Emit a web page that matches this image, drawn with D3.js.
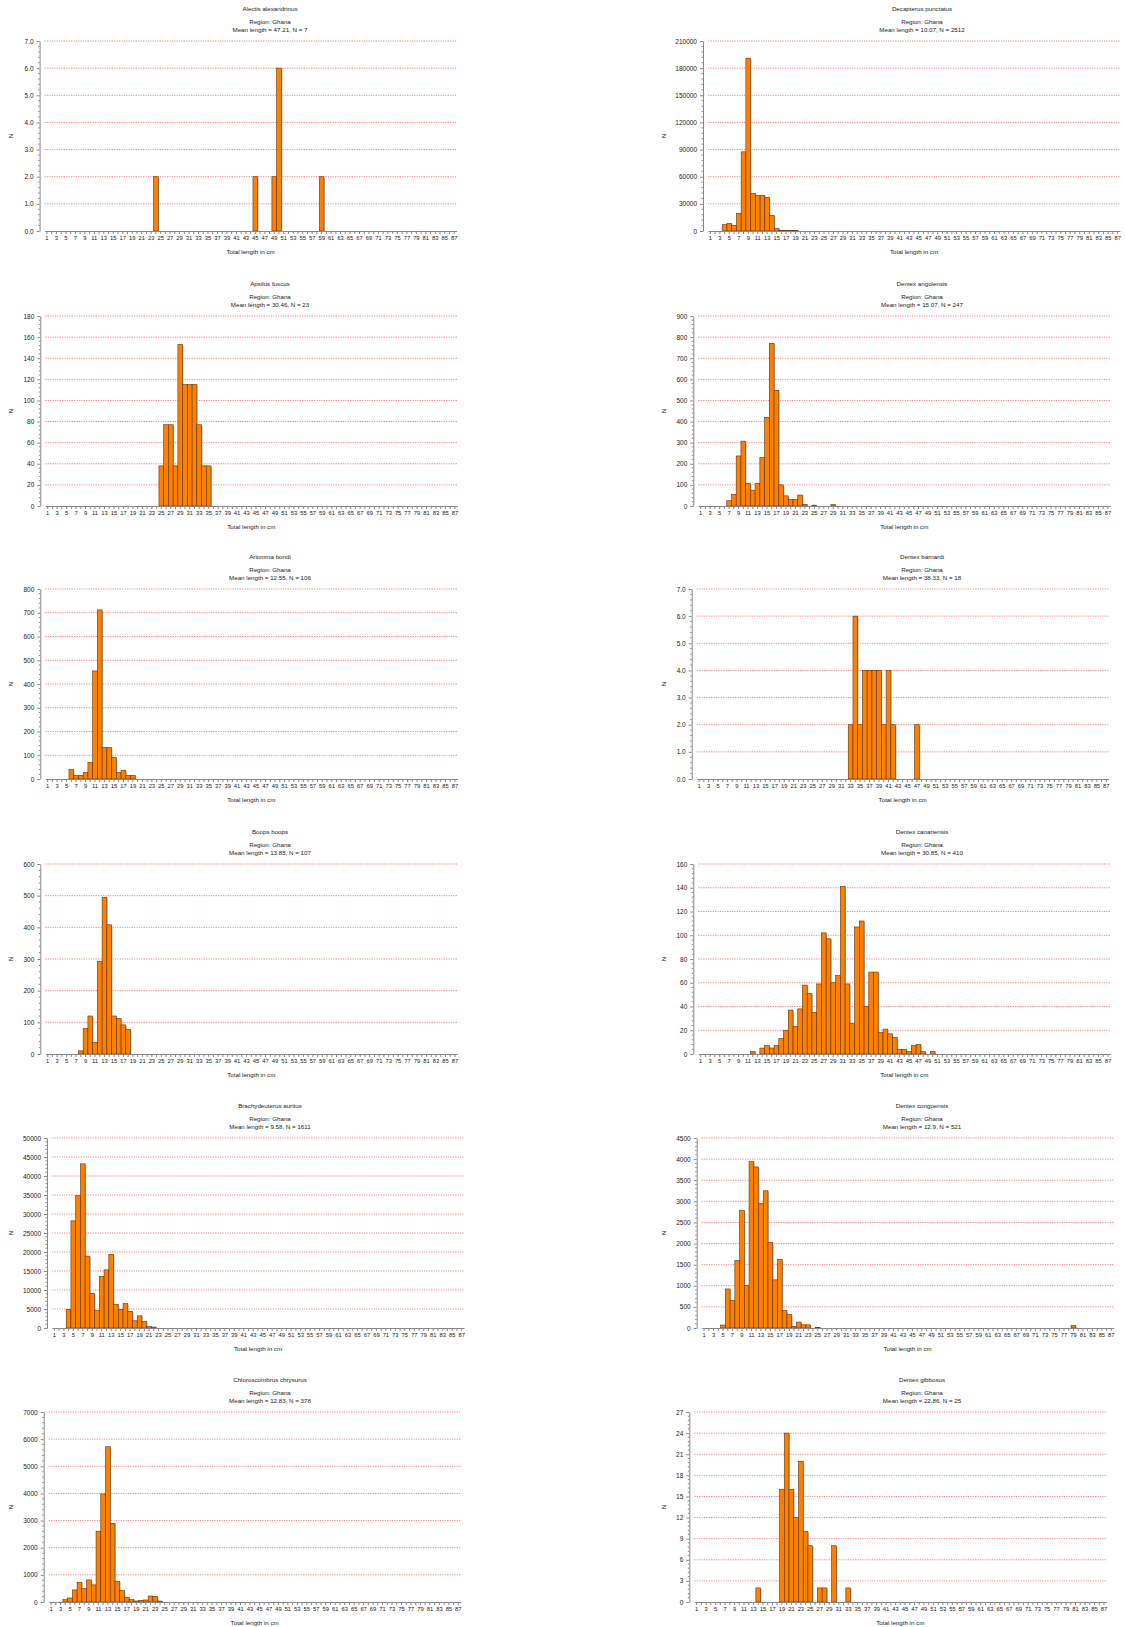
<!DOCTYPE html>
<html>
<head>
<meta charset="utf-8">
<script src="https://cdnjs.cloudflare.com/ajax/libs/d3/7.8.5/d3.min.js"></script>
<style>
	body { margin: 0; background: #fff; }
	text { font-family: "Liberation Sans", Arial, sans-serif; fill: #222; }
</style>
</head>
<body>
<div id="charts"></div>
<script>
// Length frequency histograms, Ghana survey

var lengths = d3.range(1, 88);

var species = [
	'Alectis alexandrinus', 'Decapterus punctatus',
	'Apsilus fuscus', 'Dentex angolensis',
	'Ariomma bondi', 'Dentex barnardi',
	'Boops boops', 'Dentex canariensis',
	'Brachydeuterus auritus', 'Dentex congoensis',
	'Chloroscombrus chrysurus', 'Dentex gibbosus'
];
var meanLength = [47.21, 10.07, 30.46, 15.07, 12.55, 38.33, 13.85, 30.85, 9.58, 12.9, 12.83, 22.86];
var sampleN = [7, 2512, 23, 247, 106, 18, 107, 410, 1611, 521, 378, 25];
var yMax = [7, 210000, 180, 900, 800, 7, 600, 160, 50000, 4500, 7000, 27];
var yStep = [1, 30000, 20, 100, 100, 1, 100, 20, 5000, 500, 1000, 3];

// [length in cm, N]
var alectisN = [[24,2],[45,2],[49,2],[50,6],[59,2]];
var decapterusN = [[4,7000],[5,8500],[6,6300],[7,19500],[8,87500],[9,191000],[10,41700],[11,39500],
	[12,39500],[13,37300],[14,17300],[15,2600],[16,800],[17,600],[18,500],[19,400]];
var apsilusN = [[25,38],[26,77],[27,77],[28,38],[29,153],[30,115],[31,115],[32,115],[33,77],[34,38],[35,38]];
var angolensisN = [[7,25],[8,55],[9,237],[10,307],[11,107],[12,75],[13,107],[14,230],[15,420],[16,770],
	[17,548],[18,100],[19,48],[20,30],[21,30],[22,52],[23,8],[25,4],[29,7]];
var ariommaN = [[6,40],[7,15],[8,15],[9,28],[10,70],[11,455],[12,712],[13,133],[14,133],[15,90],
	[16,28],[17,37],[18,15],[19,15]];
var barnardiN = [[33,2],[34,6],[35,2],[36,4],[37,4],[38,4],[39,4],[40,2],[41,4],[42,2],[47,2]];
var boopsN = [[8,10],[9,80],[10,120],[11,37],[12,292],[13,495],[14,408],[15,120],[16,112],[17,92],[18,77]];
var canariensisN = [[12,2],[14,5],[15,7],[16,5],[17,7],[18,13],[19,20],[20,37],[21,23],[22,38],[23,58],
	[24,51],[25,35],[26,59],[27,102],[28,97],[29,60],[30,66],[31,141],[32,59],[33,26],[34,107],[35,112],
	[36,40],[37,69],[38,69],[39,18],[40,21],[41,17],[42,14],[43,4],[44,4],[45,2],[46,7],[47,8],[48,2],[50,2]];
var brachyN = [[4,4900],[5,28200],[6,34800],[7,43200],[8,18900],[9,9100],[10,4600],[11,13600],[12,15300],
	[13,19400],[14,6200],[15,4900],[16,6400],[17,4400],[18,1900],[19,3200],[20,1700],[21,350],[22,250]];
var congoensisN = [[5,70],[6,925],[7,650],[8,1600],[9,2785],[10,1005],[11,3940],[12,3815],[13,2950],
	[14,3250],[15,2025],[16,1140],[17,1620],[18,410],[19,325],[20,40],[21,140],[22,75],[23,75],[25,15],[79,55]];
var chloroN = [[4,85],[5,148],[6,445],[7,727],[8,490],[9,813],[10,630],[11,2610],[12,3980],[13,5720],
	[14,2900],[15,750],[16,420],[17,170],[18,85],[19,37],[20,60],[21,75],[22,220],[23,210],[24,35]];
var gibbosusN = [[14,2],[19,16],[20,24],[21,16],[22,12],[23,20],[24,10],[25,8],[27,2],[28,2],[30,8],[33,2]];

var counts = [alectisN, decapterusN, apsilusN, angolensisN, ariommaN, barnardiN,
	boopsN, canariensisN, brachyN, congoensisN, chloroN, gibbosusN];

// layout
var W = 1125, H = 1627;
var ROW_TOP = [41, 316, 589, 864, 1138, 1412];
var PLOT_H = 190, PLOT_W = 412;
var PLOT_LEFT = [44.6, 708, 45.3, 698.3, 45.3, 696.7, 45.3, 698.3, 52, 701.7, 48.7, 694.3];
var TITLE_X = [270, 922];
var N_X = [11, 664];

var svg = d3.select('#charts').append('svg')
	.attr('width', W).attr('height', H);

species.forEach(function(name, i) {
	var col = i % 2, row = Math.floor(i / 2);
	var top = ROW_TOP[row], left = PLOT_LEFT[i];
	var bottom = top + PLOT_H, right = left + PLOT_W;
	var fmt = yMax[i] < 10 ? d3.format('.1f') : d3.format('d');
	var g = svg.append('g').attr('class', 'panel');

	var x = d3.scaleBand().domain(lengths).range([left, right]).padding(0);
	var y = d3.scaleLinear().domain([0, yMax[i]]).range([bottom, top]);
	var ticks = d3.range(0, yMax[i] + yStep[i] / 2, yStep[i]);

	// titles
	g.append('text').attr('x', TITLE_X[col]).attr('y', top - 30)
		.attr('text-anchor', 'middle').style('font-size', '6.2px').text(name);
	g.append('text').attr('x', TITLE_X[col]).attr('y', top - 17)
		.attr('text-anchor', 'middle').style('font-size', '6.2px').text('Region: Ghana');
	g.append('text').attr('x', TITLE_X[col]).attr('y', top - 9)
		.attr('text-anchor', 'middle').style('font-size', '6.2px')
		.text('Mean length = ' + meanLength[i] + ', N = ' + sampleN[i]);

	// grid lines
	g.selectAll('.grid').data(ticks.filter(function(t) { return t > 0; }))
		.enter().append('line')
		.attr('x1', left).attr('x2', right)
		.attr('y1', function(d) { return y(d); }).attr('y2', function(d) { return y(d); })
		.attr('stroke', '#ff6060').attr('stroke-width', 0.8)
		.attr('stroke-dasharray', '1.2,1.2');

	// bars (with the little grey shadow)
	g.selectAll('.shadow').data(counts[i]).enter().append('rect')
		.attr('x', function(d) { return x(d[0]) + 1; })
		.attr('y', function(d) { return y(d[1]) + 1; })
		.attr('width', x.bandwidth())
		.attr('height', function(d) { return Math.max(0, bottom - y(d[1]) - 1); })
		.attr('fill', '#c8c8c8');
	g.selectAll('.bar').data(counts[i]).enter().append('rect')
		.attr('x', function(d) { return x(d[0]); })
		.attr('y', function(d) { return y(d[1]); })
		.attr('width', x.bandwidth())
		.attr('height', function(d) { return bottom - y(d[1]); })
		.attr('fill', '#ff8000').attr('stroke', '#5e3410').attr('stroke-width', 0.6);

	// y axis
	var yAxis = d3.axisLeft(y).tickValues(ticks).tickFormat(fmt)
		.tickSizeInner(3).tickSizeOuter(0).tickPadding(3);
	var ya = g.append('g').attr('transform', 'translate(' + (left - 5) + ',0)').call(yAxis);
	ya.select('.domain').attr('stroke', '#888');
	ya.selectAll('.tick line').attr('stroke', '#888');
	ya.selectAll('.tick text').style('font-size', '6.5px').attr('fill', '#333')
		.style('font-family', '"Liberation Sans", Arial, sans-serif');
	// minor ticks
	var minor = d3.range(0, yMax[i], yStep[i] / 5).filter(function(v, k) { return k % 5 !== 0; });
	ya.selectAll('.minor').data(minor).enter().append('line')
		.attr('x1', -1.5).attr('x2', 0)
		.attr('y1', function(d) { return y(d); }).attr('y2', function(d) { return y(d); })
		.attr('stroke', '#888');

	// x axis
	var xAxis = d3.axisBottom(x).tickSizeInner(3).tickSizeOuter(0).tickPadding(2)
		.tickFormat(function(d) { return d % 2 === 1 ? d : ''; });
	var xa = g.append('g').attr('transform', 'translate(0,' + bottom + ')').call(xAxis);
	xa.select('.domain').attr('stroke', '#888');
	xa.selectAll('.tick line').attr('stroke', '#888');
	xa.selectAll('.tick text').style('font-size', '5.8px').attr('fill', '#333')
		.style('font-family', '"Liberation Sans", Arial, sans-serif');

	// axis titles
	g.append('text').attr('x', (left + right) / 2).attr('y', bottom + 23)
		.attr('text-anchor', 'middle').style('font-size', '6.2px').text('Total length in cm');
	g.append('text')
		.attr('transform', 'translate(' + (N_X[col] + 2) + ',' + (top + PLOT_H / 2) + ') rotate(-90)')
		.attr('text-anchor', 'middle').style('font-size', '6.2px').text('N');
});
</script>
</body>
</html>
